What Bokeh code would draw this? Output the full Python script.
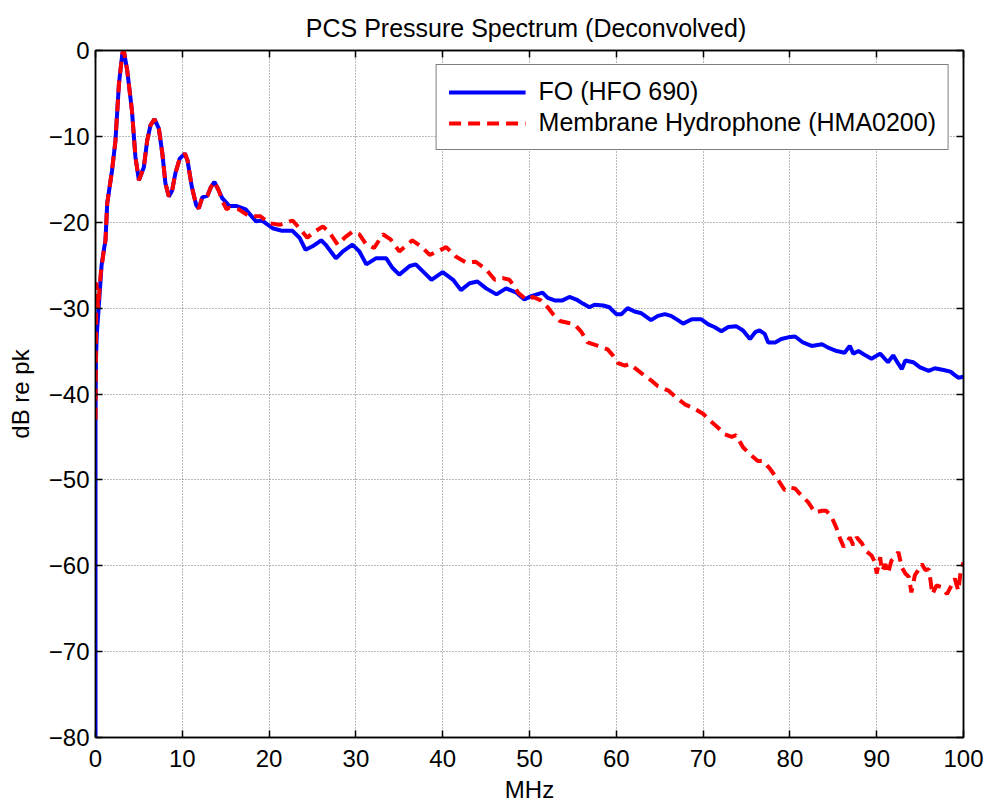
from bokeh.plotting import figure
from bokeh.models import Range1d, LinearAxis, FixedTicker, Legend, LegendItem
from bokeh.embed import file_html
from bokeh.resources import INLINE

# ---- data ----
fo_f = [0.0, 0.0, 0.05, 0.15, 0.4, 0.7, 1.0, 1.15, 1.35, 1.9, 2.3, 2.7, 3.1, 3.26, 3.65, 4.2, 4.6, 5.0,
        5.57, 5.95, 6.34, 6.8, 7.3, 7.7, 8.06, 8.45, 8.83, 9.2, 9.7, 10.3, 10.6, 11.1, 11.6, 11.9,
        12.3, 12.9, 13.3, 13.7, 14.2, 14.6, 15.4, 16.2, 17.3, 18.5, 19.2, 20.4, 21.5, 22.7, 23.5,
        24.2, 25.0, 26.0, 26.5, 27.7, 28.5, 29.6, 30.4, 31.2, 32.3, 33.5, 34.2, 35.0, 36.2, 36.9,
        38.1, 38.7, 40.0, 41.2, 42.1, 43.1, 44.0, 45.0, 46.2, 47.3, 48.5, 49.4, 50.2, 51.5, 52.1,
        52.9, 53.8, 54.6, 55.4, 56.2, 56.9, 57.5, 58.5, 59.2, 60.0, 60.6, 61.3, 62.1, 62.9, 64.0,
        64.8, 65.6, 66.3, 67.1, 67.7, 68.7, 69.8, 70.6, 71.3, 72.1, 72.9, 73.8, 74.6, 75.4, 76.0,
        76.5, 77.1, 77.5, 78.3, 79.0, 79.8, 80.6, 81.5, 82.5, 83.7, 84.4, 85.4, 86.3, 86.9, 87.3,
        87.9, 88.7, 89.4, 90.4, 91.3, 91.9, 92.5, 92.9, 93.3, 94.2, 95.0, 96.0, 96.7, 97.7, 98.5,
        99.0, 99.4, 100.0]
fo_db = [-80.0, -43.0, -36.0, -33.0, -29.5, -25.0, -23.0, -22.1, -17.8, -14.0, -10.5, -3.9, -0.3, 0.0,
         -2.3, -7.0, -12.4, -15.1, -13.6, -10.5, -8.7, -8.0, -9.1, -12.0, -15.5, -17.0, -16.3,
         -14.3, -12.6, -12.0, -12.8, -15.9, -18.0, -18.4, -17.1, -16.9, -15.9, -15.3, -16.3,
         -17.2, -18.1, -18.1, -18.5, -19.9, -19.8, -20.7, -21.0, -21.0, -21.8, -23.2, -22.8,
         -22.1, -22.6, -24.2, -23.4, -22.6, -23.4, -24.9, -24.2, -24.2, -25.3, -26.1, -25.1,
         -24.9, -26.1, -26.7, -25.8, -26.7, -27.9, -27.1, -26.9, -27.7, -28.4, -27.7, -28.2,
         -29.0, -28.6, -28.2, -28.8, -29.1, -29.1, -28.7, -29.0, -29.5, -29.9, -29.6, -29.7,
         -29.9, -30.7, -30.7, -30.0, -30.4, -30.6, -31.4, -30.9, -30.7, -30.9, -31.4, -31.8,
         -31.3, -31.3, -31.9, -32.2, -32.7, -32.2, -32.1, -32.6, -33.6, -32.8, -32.6, -33.0,
         -34.0, -34.0, -33.6, -33.4, -33.3, -34.0, -34.4, -34.2, -34.6, -35.0, -35.2, -34.4,
         -35.3, -35.0, -35.5, -35.9, -35.3, -36.3, -35.5, -36.5, -37.1, -36.1, -36.3, -36.9,
         -37.3, -37.0, -37.2, -37.4, -37.8, -38.1, -38.0]

mh_f = [0.0, 0.05, 0.1, 0.3, 0.6, 1.0, 1.15, 1.35, 1.9, 2.3, 2.7, 3.1, 3.26, 3.65, 4.2, 4.6, 5.0,
        5.57, 5.95, 6.34, 6.8, 7.3, 7.7, 8.06, 8.45, 8.83, 9.2, 9.7, 10.3, 10.6, 11.1, 11.6, 11.9,
        12.3, 12.9, 13.3, 13.7, 14.2, 14.6, 15.1, 15.4, 16.5, 17.7, 19.0, 20.0, 21.2, 22.7, 23.5,
        24.4, 25.2, 26.2, 26.9, 27.9, 28.7, 29.6, 30.4, 31.2, 32.1, 33.1, 34.0, 35.0, 36.5, 37.5,
        38.5, 39.4, 40.4, 41.5, 42.7, 43.8, 45.0, 46.0, 46.9, 47.7, 48.7, 49.6, 50.4, 51.3, 52.1,
        52.7, 53.5, 54.4, 55.2, 56.0, 56.7, 57.9, 59.0, 59.6, 60.2, 61.0, 61.5, 62.3, 63.3, 64.0,
        64.8, 66.0, 66.9, 67.9, 69.0, 70.0, 70.8, 71.7, 72.5, 73.3, 73.8, 74.6, 75.6, 76.3, 76.9,
        77.7, 78.7, 79.4, 80.0, 80.6, 81.3, 82.1, 82.9, 83.7, 84.2, 84.8, 85.4, 85.8, 86.2, 86.5,
        86.9, 87.3, 87.7, 88.3, 88.7, 89.4, 89.8, 90.0, 90.4, 90.6, 91.0, 91.3, 91.7, 92.1, 92.5,
        92.9, 93.3, 93.7, 94.0, 94.4, 94.8, 95.2, 95.6, 96.0, 96.2, 96.4, 96.9, 97.5, 98.1, 98.7,
        99.0, 99.4, 99.7, 100.0]
mh_db = [-43.0, -35.0, -27.0, -30.0, -26.0, -23.0, -22.1, -17.8, -14.0, -10.5, -3.9, -0.3, 0.0, -2.3,
         -7.0, -12.4, -15.1, -13.6, -10.5, -8.7, -8.0, -9.1, -12.0, -15.5, -17.0, -16.3, -14.3,
         -12.6, -12.0, -12.8, -15.9, -18.0, -18.4, -17.1, -16.9, -15.9, -15.3, -16.3, -17.5,
         -18.5, -18.3, -18.5, -19.3, -19.3, -20.1, -20.3, -19.8, -20.7, -21.8, -21.1, -20.5,
         -21.1, -22.6, -21.8, -21.1, -21.4, -22.6, -23.0, -21.4, -22.0, -23.4, -22.1, -22.8,
         -23.8, -23.4, -22.9, -24.0, -24.7, -24.6, -25.5, -26.7, -26.5, -26.7, -28.2, -29.0,
         -28.7, -29.1, -29.9, -30.7, -31.5, -31.7, -31.9, -32.8, -34.0, -34.4, -34.8, -35.5,
         -36.4, -36.7, -36.5, -37.1, -37.9, -38.4, -39.1, -39.6, -40.4, -41.2, -41.7, -42.3,
         -43.1, -43.9, -44.7, -45.0, -44.8, -46.2, -47.2, -47.8, -47.8, -48.7, -50.1, -51.2,
         -50.9, -51.0, -51.8, -52.6, -53.8, -53.6, -53.6, -54.3, -55.7, -56.9, -57.8, -57.4,
         -56.7, -57.6, -56.7, -57.4, -58.2, -58.8, -59.6, -60.9, -59.0, -60.6, -59.8, -60.9,
         -59.4, -59.0, -58.4, -60.2, -60.9, -61.3, -63.1, -61.1, -60.5, -59.8, -60.5, -60.4,
         -61.7, -63.3, -62.3, -62.5, -63.3, -62.1, -61.5, -62.9, -60.5, -59.6]

x_ticks = [0, 10, 20, 30, 40, 50, 60, 70, 80, 90, 100]
y_ticks = [-80, -70, -60, -50, -40, -30, -20, -10, 0]
title_text = "PCS  Pressure Spectrum (Deconvolved)"
x_label = "MHz"
y_label = "dB re pk"
fo_name = "FO (HFO 690)"
mh_name = "Membrane Hydrophone (HMA0200)"

FONT = "Liberation Sans"

p = figure(frame_width=868, frame_height=687, output_backend="svg", toolbar_location=None,
           x_range=Range1d(0, 100), y_range=Range1d(-80, 0),
           min_border_left=95, min_border_right=24, min_border_top=50, min_border_bottom=66,
           background_fill_color="white", border_fill_color="white")

p.title.text = title_text
p.title.align = "center"
p.title.vertical_align = "top"
p.title.text_font = FONT
p.title.text_font_size = "25px"
p.title.text_font_style = "normal"
p.title.text_color = "black"
p.title.offset = 0
p.title.standoff = 14

p.outline_line_color = "black"
p.outline_line_width = 1.5

for ax in (p.xaxis[0], p.yaxis[0]):
    ax.major_label_text_font = FONT
    ax.major_label_text_font_size = "24px"
    ax.major_label_text_color = "black"
    ax.axis_label_text_font = FONT
    ax.axis_label_text_font_size = "24px"
    ax.axis_label_text_font_style = "normal"
    ax.axis_label_text_color = "black"
    ax.major_tick_in = 7
    ax.major_tick_out = 0
    ax.minor_tick_line_color = None
    ax.axis_line_color = "black"
    ax.axis_line_width = 1.5
    ax.major_tick_line_color = "black"
    ax.major_tick_line_width = 1.5

p.xaxis[0].ticker = FixedTicker(ticks=x_ticks)
p.yaxis[0].ticker = FixedTicker(ticks=y_ticks)
p.xaxis[0].axis_label = x_label
p.yaxis[0].axis_label = y_label
p.xaxis[0].major_label_standoff = 12
p.xaxis[0].axis_label_standoff = 6
p.yaxis[0].major_label_standoff = 6
p.yaxis[0].axis_label_standoff = 12

for loc in ("above", "right"):
    ax = LinearAxis(ticker=FixedTicker(ticks=x_ticks if loc == "above" else y_ticks),
                    major_label_text_font_size="0px", major_tick_in=7, major_tick_out=0,
                    minor_tick_line_color=None, axis_line_color="black", axis_line_width=1.5,
                    major_tick_line_width=1.5)
    ax.major_label_text_color = None
    ax.major_label_standoff = 0
    p.add_layout(ax, loc)

p.xgrid.ticker = FixedTicker(ticks=x_ticks)
p.ygrid.ticker = FixedTicker(ticks=y_ticks)
for g in (p.xgrid[0], p.ygrid[0]):
    g.grid_line_color = "#555555"
    g.grid_line_dash = "1 2"
    g.grid_line_width = 1
    g.grid_line_alpha = 0.8

r_fo = p.line(fo_f, fo_db, line_color="#0000ff", line_width=4)
r_mh = p.line(mh_f, mh_db, line_color="#ff0000", line_width=4, line_dash="12 7")

legend = Legend(items=[LegendItem(label=fo_name, renderers=[r_fo]),
                       LegendItem(label=mh_name, renderers=[r_mh])],
                location="top_right")
legend.label_text_font = FONT
legend.label_text_font_size = "25px"
legend.label_text_color = "black"
legend.border_line_color = "black"
legend.border_line_width = 1.5
legend.glyph_width = 77
legend.label_standoff = 13
legend.spacing = 2
legend.padding = 12
legend.margin = 14
legend.background_fill_alpha = 1
p.add_layout(legend, "center")

open("out.html", "w").write(file_html(p, INLINE))
